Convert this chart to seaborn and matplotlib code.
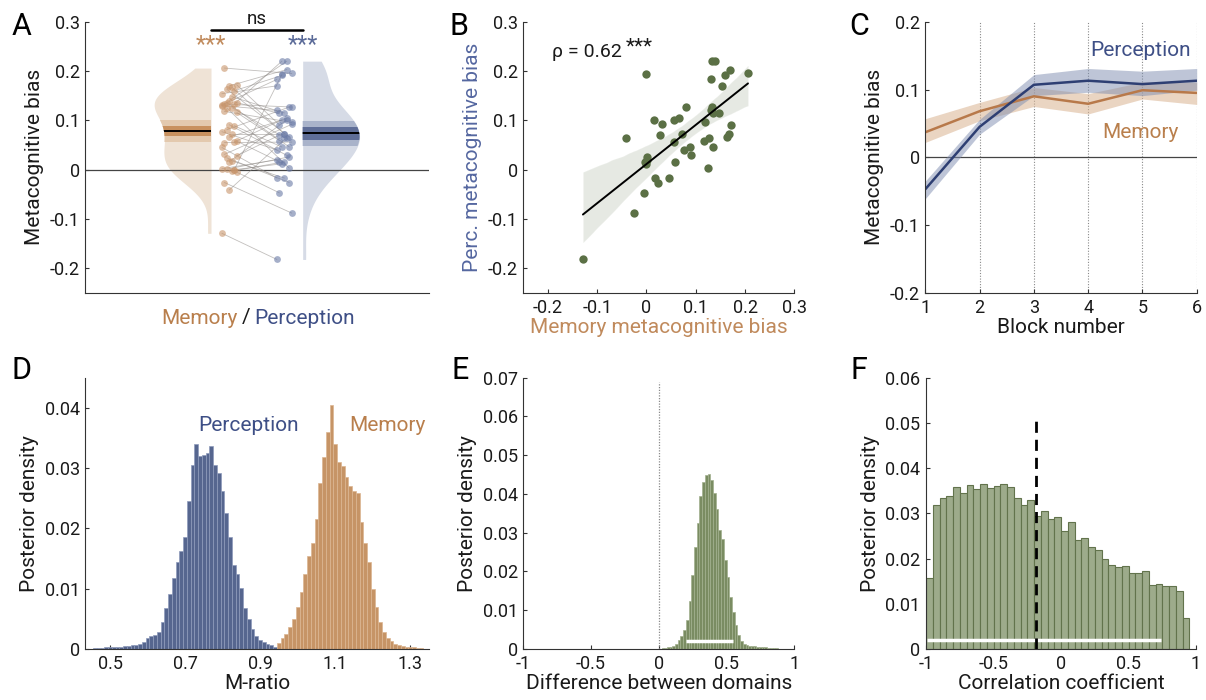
import numpy as np
import pandas as pd
import seaborn as sns
import matplotlib.pyplot as plt

# per-subject metacognitive bias (x = memory, y = perception)
mem_bias = [-0.129, 0.000, -0.041, -0.026, -0.005, -0.003, 0.001, 0.002, 0.000, 0.016,
            0.031, 0.028, 0.018, 0.024, 0.045, 0.056, 0.066, 0.055, 0.058, 0.072,
            0.081, 0.077, 0.089, 0.091, 0.118, 0.116, 0.126, 0.125, 0.131, 0.133,
            0.140, 0.133, 0.136, 0.148, 0.136, 0.154, 0.160, 0.170, 0.206, 0.172,
            0.167, 0.163, 0.130]
perc_bias = [-0.182, 0.193, 0.065, -0.088, -0.047, 0.016, 0.026, 0.020, 0.012, 0.101,
             0.092, 0.070, -0.017, -0.026, -0.017, 0.101, 0.104, 0.056, 0.016, 0.072,
             0.127, 0.040, 0.046, 0.029, 0.096, 0.059, 0.065, 0.003, 0.183, 0.220,
             0.220, 0.127, 0.114, 0.115, 0.046, 0.170, 0.191, 0.203, 0.195, 0.091,
             0.073, 0.066, 0.120]
rho_text = 'ρ = 0.62'

# panel C: bias per block (mean and band)
blocks = [1, 2, 3, 4, 5, 6]
perc_block = [-0.047, 0.045, 0.107, 0.113, 0.108, 0.113]
perc_block_lo = [-0.061, 0.034, 0.091, 0.096, 0.091, 0.099]
perc_block_hi = [-0.035, 0.056, 0.122, 0.131, 0.127, 0.131]
mem_block = [0.037, 0.068, 0.090, 0.079, 0.099, 0.095]
mem_block_lo = [0.022, 0.054, 0.075, 0.064, 0.086, 0.078]
mem_block_hi = [0.057, 0.081, 0.103, 0.094, 0.111, 0.111]

# panel D: posterior of M-ratio (bin width 0.01)
perc_start, mem_start, d_bin = 0.46, 0.95, 0.01
perc_hist = [0.0002, 0.0002, 0.0002, 0.0003, 0.0003, 0.0003, 0.0004, 0.0004, 0.0005, 0.0005,
             0.0006, 0.0007, 0.0008, 0.0012, 0.0019, 0.0021, 0.0023, 0.0029, 0.0045, 0.0068,
             0.0092, 0.0118, 0.0145, 0.0162, 0.0185, 0.0245, 0.0305, 0.0340, 0.0320, 0.0322,
             0.0325, 0.0336, 0.0305, 0.0292, 0.0262, 0.0225, 0.0185, 0.0140, 0.0124, 0.0102,
             0.0068, 0.0050, 0.0033, 0.0022, 0.0015, 0.0011, 0.0008, 0.0006, 0.0004, 0.0003,
             0.0002, 0.0002]
mem_hist = [0.0010, 0.0018, 0.0025, 0.0036, 0.0050, 0.0070, 0.0095, 0.0125, 0.0155, 0.0175,
            0.0215, 0.0275, 0.0318, 0.0360, 0.0405, 0.0340, 0.0310, 0.0303, 0.0285, 0.0270,
            0.0262, 0.0258, 0.0210, 0.0175, 0.0145, 0.0100, 0.0070, 0.0045, 0.0028, 0.0019,
            0.0013, 0.0009, 0.0007, 0.0005, 0.0004, 0.0003, 0.0003, 0.0002, 0.0002]

# panel E: difference between domains (bin width 0.02)
diff_start, e_bin = 0.0, 0.02
diff_hist = [0.0001, 0.0002, 0.0003, 0.0004, 0.0006, 0.0009, 0.0014, 0.0022, 0.0033, 0.0050,
             0.0075, 0.0125, 0.0190, 0.0262, 0.0325, 0.0395, 0.0432, 0.0450, 0.0452, 0.0435,
             0.0402, 0.0360, 0.0308, 0.0285, 0.0230, 0.0185, 0.0135, 0.0095, 0.0062, 0.0036,
             0.0020, 0.0014, 0.0011, 0.0009, 0.0008, 0.0007, 0.0006, 0.0005, 0.0004, 0.0004,
             0.0003, 0.0003, 0.0003, 0.0002, 0.0001]
diff_hdi = [0.204, 0.55]

# panel F: correlation coefficient (bin width 0.05)
corr_start, f_bin = -1.0, 0.05
corr_hist = [0.0158, 0.0318, 0.0335, 0.0338, 0.0359, 0.0346, 0.0362, 0.0353, 0.0366, 0.0357,
             0.0360, 0.0364, 0.0359, 0.0335, 0.0318, 0.0330, 0.0295, 0.0306, 0.0288, 0.0293,
             0.0261, 0.0281, 0.0240, 0.0245, 0.0226, 0.0218, 0.0200, 0.0186, 0.0181, 0.0184,
             0.0169, 0.0167, 0.0172, 0.0141, 0.0144, 0.0139, 0.0139, 0.0128, 0.0068]
corr_hdi = [-0.99, 0.738]
corr_mean = -0.185
corr_mean_top = 0.0515

# colours
mem_c = '#b97f4c'
perc_c = '#3e4f86'
green = '#5b7045'
txt = '#1a1a1a'

sns.set_style('ticks')
plt.rcParams['font.family'] = ['Roboto', 'DejaVu Sans']
plt.rcParams['font.weight'] = 'normal'
plt.rcParams['axes.unicode_minus'] = False
plt.rcParams['axes.labelcolor'] = txt

W, H = 1206, 700
fig = plt.figure(figsize=(W / 100, H / 100), dpi=100)


def add_ax(l, t, r, b):
    return fig.add_axes([l / W, 1 - b / H, (r - l) / W, (b - t) / H])


def style(ax):
    sns.despine(ax=ax)
    for s in ['left', 'bottom']:
        ax.spines[s].set_linewidth(0.8)
        ax.spines[s].set_color('#333333')
    ax.tick_params(direction='in', length=3, width=0.8, color='#333333',
                   labelsize=13, labelcolor=txt, pad=4)


def ticks(ax, axis, vals):
    labels = ['%g' % v for v in vals]
    if axis == 'x':
        ax.set_xticks(vals, labels)
    else:
        ax.set_yticks(vals, labels)


axA = add_ax(85.3, 21.7, 429.3, 293)
axB = add_ax(523.3, 21.7, 794.3, 293)
axC = add_ax(925.3, 21.7, 1196.7, 293)
axD = add_ax(85.3, 377.7, 429.3, 649)
axE = add_ax(523.3, 377.7, 794.3, 649)
axF = add_ax(926, 377.7, 1196, 649)


# ---------------- A ----------------
def half_violin(ax, vals, pos, side, color, half_width=0.62):
    # gaussian kde (Scott's rule), cut at the data range
    v = np.asarray(vals)
    bw = v.std(ddof=1) * len(v) ** (-1 / 5)
    grid = np.linspace(v.min(), v.max(), 300)
    dens = np.exp(-0.5 * ((grid[:, None] - v[None, :]) / bw) ** 2).sum(axis=1)
    dens = dens / dens.max() * half_width
    return ax.fill_betweenx(grid, pos, pos + side * dens, color=color, lw=0, zorder=1)


ax = axA
n = len(mem_bias)
mem_poly = half_violin(ax, mem_bias, 1.0, -1, '#efe3d6')
perc_poly = half_violin(ax, perc_bias, 2.0, 1, '#d6dbe6')
bands = [(mem_poly, mem_bias, '#e3c9ae', '#c8915f'),
         (perc_poly, perc_bias, '#a9b3ca', '#5f6e98')]
for poly, vals, light, dark in bands:
    path, tr = poly.get_paths()[0], poly.get_transform()
    m = np.mean(vals)
    se = np.std(vals, ddof=1) / np.sqrt(len(vals))
    for lo, hi, c in [(m - 1.96 * se, m + 1.96 * se, light), (m - se, m + se, dark)]:
        r = ax.axhspan(lo, hi, color=c, lw=0, zorder=2)
        r.set_clip_path(path, tr)
    ln = ax.axhline(m, color='k', lw=1.4, zorder=3)
    ln.set_clip_path(path, tr)

ax.axhline(0, color='#444444', lw=0.9, zorder=2.5)
jit = ((np.arange(n) * 5) % 7 - 3) * 0.027
xm = 1.2 + jit
xp = 1.8 + jit[::-1]
for i in range(n):
    ax.plot([xm[i], xp[i]], [mem_bias[i], perc_bias[i]], color='#8f8a86', lw=0.6,
            alpha=0.55, zorder=3)
sns.scatterplot(x=xm, y=mem_bias, color='#c8956b', alpha=0.6, s=24, linewidth=0, ax=ax, zorder=4)
sns.scatterplot(x=xp, y=perc_bias, color='#6a7aa6', alpha=0.6, s=24, linewidth=0, ax=ax, zorder=4)

ax.plot([1, 2], [0.283, 0.283], color='k', lw=1.8, clip_on=False)
ax.text(1.5, 0.306, 'ns', ha='center', va='center', fontsize=13.5, color=txt)
ax.text(1.0, 0.253, '***', ha='center', va='center', fontsize=17, color='#c08a5c')
ax.text(2.0, 0.253, '***', ha='center', va='center', fontsize=17, color='#5a6a98')
ax.set_xlim(-0.371, 3.381)
ax.set_ylim(-0.25, 0.3)
style(ax)
ax.set_xticks([])
ticks(ax, 'y', [-0.2, -0.1, 0, 0.1, 0.2, 0.3])
ax.set_ylabel('Metacognitive bias', fontsize=15)
fig.text(246 / W, 1 - 318 / H, '/', ha='center', va='center', fontsize=15, color=txt)
fig.text(238 / W, 1 - 318 / H, 'Memory', ha='right', va='center', fontsize=15, color=mem_c)
fig.text(254 / W, 1 - 318 / H, 'Perception', ha='left', va='center', fontsize=15, color=perc_c)

# ---------------- B ----------------
ax = axB
sns.regplot(x=np.array(mem_bias), y=np.array(perc_bias), ax=ax, color=green, ci=95, seed=1,
            scatter_kws=dict(s=36, alpha=1, linewidths=0, zorder=3), line_kws=dict(lw=1.4))
ax.lines[-1].set_color('k')
ax.lines[-1].set_zorder(4)
for c in ax.collections[1:]:
    c.set_zorder(1)
ax.text(-0.1925, 0.238, rho_text, ha='left', va='center', fontsize=14, color=txt)
ax.text(-0.043, 0.248, '***', ha='left', va='center', fontsize=15, color=txt)
ax.set_xlim(-0.25, 0.3)
ax.set_ylim(-0.25, 0.3)
style(ax)
ticks(ax, 'x', [-0.2, -0.1, 0, 0.1, 0.2, 0.3])
ticks(ax, 'y', [-0.2, -0.1, 0, 0.1, 0.2, 0.3])
ax.set_xlabel('Memory metacognitive bias', fontsize=15, color='#c08a5c', labelpad=1)
ax.set_ylabel('Perc. metacognitive bias', fontsize=15, color='#5567a0')

# ---------------- C ----------------
ax = axC
for b in blocks[1:]:
    ax.axvline(b, color='#8a8a8a', ls=(0, (1, 1.5)), lw=0.8, zorder=0.5)
ax.axhline(0, color='#444444', lw=0.9, zorder=0.6)
ax.fill_between(blocks, mem_block_lo, mem_block_hi, color='#d9b391', alpha=0.55, lw=0)
sns.lineplot(x=blocks, y=mem_block, color='#b8794a', lw=1.8, ax=ax)
ax.fill_between(blocks, perc_block_lo, perc_block_hi, color='#7e8db0', alpha=0.5, lw=0)
sns.lineplot(x=blocks, y=perc_block, color='#2e3f73', lw=1.8, ax=ax)
ax.text(4.97, 0.158, 'Perception', ha='center', va='center', fontsize=15, color=perc_c)
ax.text(4.96, 0.036, 'Memory', ha='center', va='center', fontsize=15, color=mem_c)
ax.set_xlim(1, 6)
ax.set_ylim(-0.2, 0.2)
style(ax)
ticks(ax, 'x', blocks)
ticks(ax, 'y', [-0.2, -0.1, 0, 0.1, 0.2])
ax.set_xlabel('Block number', fontsize=15, labelpad=1)
ax.set_ylabel('Metacognitive bias', fontsize=15)


# ---------------- D ----------------
def hist(ax, start, width, heights, color, edge, lw=0.5):
    df = pd.DataFrame({'center': start + width * (np.arange(len(heights)) + 0.5),
                       'height': heights})
    edges = (start + width * np.arange(len(heights) + 1)).tolist()
    sns.histplot(data=df, x='center', weights='height', bins=edges, color=color,
                 edgecolor=edge, linewidth=lw, alpha=1, ax=ax)


ax = axD
hist(ax, perc_start - d_bin / 2, d_bin, perc_hist, '#56668f', '#8e9bbb')
hist(ax, mem_start - d_bin / 2, d_bin, mem_hist, '#c69466', '#dcb692')
ax.text(0.868, 0.0371, 'Perception', ha='center', va='center', fontsize=15, color=perc_c)
ax.text(1.239, 0.0371, 'Memory', ha='center', va='center', fontsize=15, color=mem_c)
ax.set_xlim(0.434, 1.351)
ax.set_ylim(0, 0.045)
style(ax)
ticks(ax, 'x', [0.5, 0.7, 0.9, 1.1, 1.3])
ticks(ax, 'y', [0, 0.01, 0.02, 0.03, 0.04])
ax.set_xlabel('M-ratio', fontsize=15, labelpad=1)
ax.set_ylabel('Posterior density', fontsize=15)

# ---------------- E ----------------
ax = axE
ax.axvline(0, ymax=0.069 / 0.07, color='#8a8a8a', ls=(0, (1, 1.2)), lw=0.9)
hist(ax, diff_start, e_bin, diff_hist, '#7a8c62', '#a2b08e')
ax.hlines(0.0021, diff_hdi[0], diff_hdi[1], color='white', lw=2.5)
ax.set_xlim(-1, 1)
ax.set_ylim(0, 0.07)
style(ax)
ticks(ax, 'x', [-1, -0.5, 0, 0.5, 1])
ticks(ax, 'y', [0, 0.01, 0.02, 0.03, 0.04, 0.05, 0.06, 0.07])
ax.set_xlabel('Difference between domains', fontsize=15, labelpad=1)
ax.set_ylabel('Posterior density', fontsize=15)

# ---------------- F ----------------
ax = axF
hist(ax, corr_start, f_bin, corr_hist, '#9dab8b', '#62734c', lw=0.8)
ax.hlines(0.0021, corr_hdi[0], corr_hdi[1], color='white', lw=2.5)
ax.vlines(corr_mean, 0, corr_mean_top, colors='k', linestyles=(0, (4, 2.5)), lw=2)
ax.set_xlim(-1, 1)
ax.set_ylim(0, 0.06)
style(ax)
ticks(ax, 'x', [-1, -0.5, 0, 0.5, 1])
ticks(ax, 'y', [0, 0.01, 0.02, 0.03, 0.04, 0.05, 0.06])
ax.set_xlabel('Correlation coefficient', fontsize=15, labelpad=1)
ax.set_ylabel('Posterior density', fontsize=15)

# panel letters
for letter, x, y in [('A', 12, 12), ('B', 449, 12), ('C', 849, 12),
                     ('D', 12, 356), ('E', 451, 356), ('F', 851, 356)]:
    fig.text(x / W, 1 - y / H, letter, ha='left', va='top', fontsize=22, color='k')

fig.savefig('out.png', dpi=100)
